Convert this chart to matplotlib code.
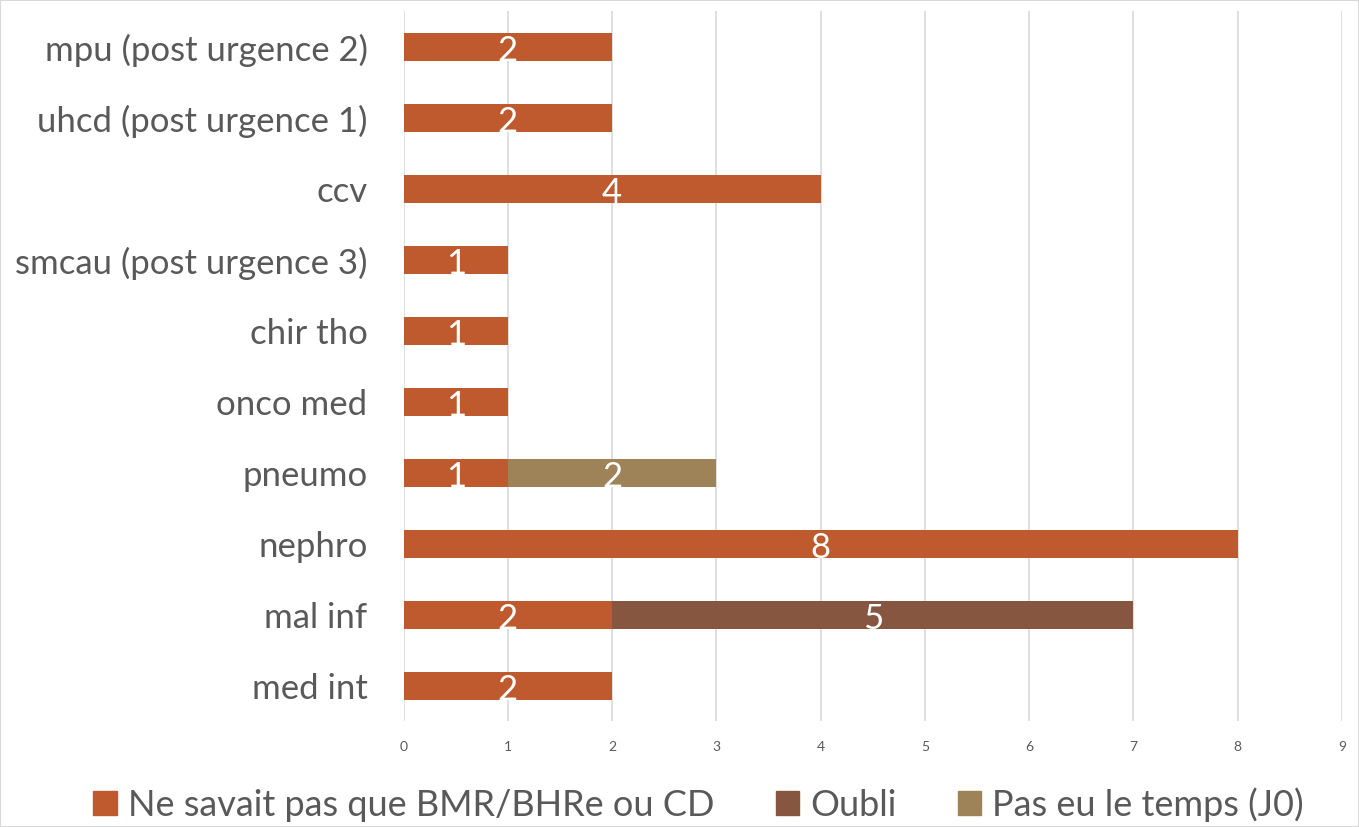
import matplotlib.pyplot as plt
import numpy as np
from matplotlib.patches import Patch

plt.rcParams['font.family'] = ['Lato', 'DejaVu Sans']

# data, bottom to top
services = ['med int', 'mal inf', 'nephro', 'pneumo', 'onco med', 'chir tho',
            'smcau (post urgence 3)', 'ccv', 'uhcd (post urgence 1)', 'mpu (post urgence 2)']
ne_savait = [2, 2, 8, 1, 1, 1, 1, 4, 2, 2]
oubli = [0, 5, 0, 0, 0, 0, 0, 0, 0, 0]
pas_temps = [0, 0, 0, 2, 0, 0, 0, 0, 0, 0]

series = [
    ('Ne savait pas que BMR/BHRe ou CD', ne_savait, '#BE5A2D'),
    ('Oubli', oubli, '#875641'),
    ('Pas eu le temps (J0)', pas_temps, '#9E8358'),
]

fig = plt.figure(figsize=(13.59, 8.27), dpi=100)
ax = fig.add_axes([0.297, 0.1276, 0.6905, 0.8585])

y = np.arange(len(services))
left = np.zeros(len(services))
for name, vals, col in series:
    vals = np.array(vals, dtype=float)
    ax.barh(y, vals, left=left, height=0.39, color=col, label=name, zorder=3)
    for yi, l, v in zip(y, left, vals):
        if v > 0:
            ax.text(l + v / 2, yi - 0.05, f'{int(v)}', ha='center', va='center',
                    color='white', fontsize=25, zorder=4)
    left += vals

ax.set_xlim(0, 9)
ax.set_ylim(-0.5, len(services) - 0.5)
ax.set_xticks(range(10))
ax.set_yticks(y)
ax.set_yticklabels(services, fontsize=25, color='#595959')
ax.tick_params(axis='x', labelsize=10, colors='#595959', length=0, pad=14)
ax.tick_params(axis='y', length=0, pad=26)
ax.grid(axis='x', color='#D9D9D9', linewidth=1.2, zorder=0)
for s in ax.spines.values():
    s.set_visible(False)

handles = [Patch(color=c, label=n) for n, _, c in series]
fig.legend(handles=handles, loc='center', bbox_to_anchor=(0.514, 0.027), ncol=3,
           frameon=False, fontsize=26, handlelength=0.65, handleheight=0.65,
           handletextpad=0.3, columnspacing=1.7, labelcolor='#595959')

fig.patches.append(plt.Rectangle((0, 0), 1, 1, transform=fig.transFigure,
                                 fill=False, edgecolor='#D9D9D9', linewidth=1.5))

fig.savefig('out.png', dpi=100)
